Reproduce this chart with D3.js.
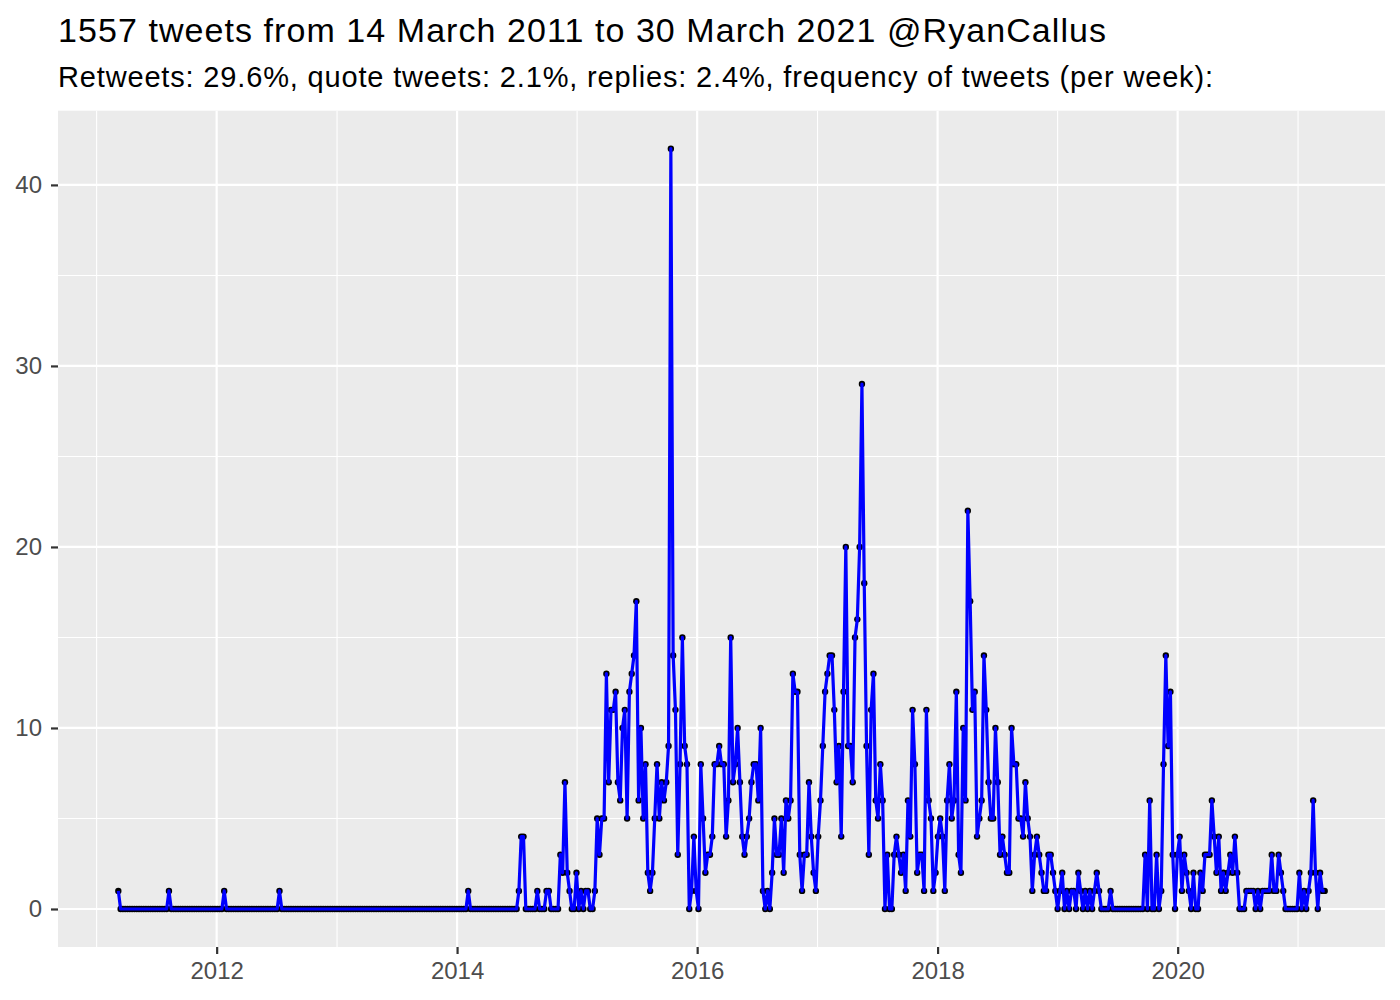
<!DOCTYPE html>
<html>
<head>
<meta charset="utf-8">
<script src="https://cdn.jsdelivr.net/npm/d3@7"></script>
<style>
  body { margin: 0; background: #ffffff; }
  svg { display: block; font-family: "Liberation Sans", Arial, sans-serif; }
</style>
</head>
<body>
<script>
"use strict";

/*
 * Weekly tweet frequency, ggplot-like look.
 */

const title = "1557 tweets from 14 March 2011 to 30 March 2021 @RyanCallus";
const subtitle = "Retweets: 29.6%, quote tweets: 2.1%, replies: 2.4%, frequency of tweets (per week):";

// first day of the first 7-day bin
const firstWeek = "2011-03-08";

// tweets per week, one value per bin
const weeklyTweets = [
  1, 0, 0, 0, 0, 0, 0, 0, 0, 0,
  0, 0, 0, 0, 0, 0, 0, 0, 0, 0,
  0, 0, 1, 0, 0, 0, 0, 0, 0, 0,
  0, 0, 0, 0, 0, 0, 0, 0, 0, 0,
  0, 0, 0, 0, 0, 0, 1, 0, 0, 0,
  0, 0, 0, 0, 0, 0, 0, 0, 0, 0,
  0, 0, 0, 0, 0, 0, 0, 0, 0, 0,
  1, 0, 0, 0, 0, 0, 0, 0, 0, 0,
  0, 0, 0, 0, 0, 0, 0, 0, 0, 0,
  0, 0, 0, 0, 0, 0, 0, 0, 0, 0,
  0, 0, 0, 0, 0, 0, 0, 0, 0, 0,
  0, 0, 0, 0, 0, 0, 0, 0, 0, 0,
  0, 0, 0, 0, 0, 0, 0, 0, 0, 0,
  0, 0, 0, 0, 0, 0, 0, 0, 0, 0,
  0, 0, 0, 0, 0, 0, 0, 0, 0, 0,
  0, 0, 1, 0, 0, 0, 0, 0, 0, 0,
  0, 0, 0, 0, 0, 0, 0, 0, 0, 0,
  0, 0, 0, 0, 1, 4, 4, 0, 0, 0,
  0, 0, 1, 0, 0, 0, 1, 1, 0, 0,
  0, 0, 3, 2, 7, 2, 1, 0, 0, 2,
  0, 1, 0, 1, 1, 0, 0, 1, 5, 3,
  5, 5, 13, 7, 11, 11, 12, 7, 6, 10,
  11, 5, 12, 13, 14, 17, 6, 10, 5, 8,
  2, 1, 2, 5, 8, 5, 7, 6, 7, 9,
  42, 14, 11, 3, 8, 15, 9, 8, 0, 1,
  4, 1, 0, 8, 5, 2, 3, 3, 4, 8,
  8, 9, 8, 8, 4, 6, 15, 7, 8, 10,
  7, 4, 3, 4, 5, 7, 8, 8, 6, 10,
  1, 0, 1, 0, 2, 5, 3, 3, 5, 2,
  6, 5, 6, 13, 12, 12, 3, 1, 3, 3,
  7, 4, 2, 1, 4, 6, 9, 12, 13, 14,
  14, 11, 7, 9, 4, 12, 20, 9, 9, 7,
  15, 16, 20, 29, 18, 9, 3, 11, 13, 6,
  5, 8, 6, 0, 3, 0, 0, 3, 4, 3,
  2, 3, 1, 6, 4, 11, 8, 2, 3, 3,
  1, 11, 6, 5, 1, 2, 4, 5, 4, 1,
  6, 8, 5, 6, 12, 3, 2, 10, 6, 22,
  17, 11, 12, 4, 5, 6, 14, 11, 7, 5,
  5, 10, 7, 3, 4, 3, 2, 2, 10, 8,
  8, 5, 5, 4, 7, 5, 4, 1, 3, 4,
  3, 2, 1, 1, 3, 3, 2, 1, 0, 1,
  2, 0, 1, 0, 1, 1, 0, 2, 1, 0,
  1, 0, 1, 0, 1, 2, 1, 0, 0, 0,
  0, 1, 0, 0, 0, 0, 0, 0, 0, 0,
  0, 0, 0, 0, 0, 0, 3, 0, 6, 0,
  0, 3, 0, 1, 8, 14, 9, 12, 3, 0,
  3, 4, 1, 3, 2, 1, 0, 2, 0, 0,
  2, 1, 3, 3, 3, 6, 4, 2, 4, 1,
  2, 1, 2, 3, 2, 4, 2, 0, 0, 0,
  1, 1, 1, 1, 0, 1, 0, 1, 1, 1,
  1, 3, 1, 1, 3, 2, 1, 0, 0, 0,
  0, 0, 0, 2, 0, 1, 0, 1, 2, 6,
  2, 0, 2, 1, 1
];

const yTicks = [0, 10, 20, 30, 40];
const yMinorTicks = [5, 15, 25, 35];
const xTickYears = [2012, 2014, 2016, 2018, 2020];
const xMinorYears = [2011, 2013, 2015, 2017, 2019, 2021];

const width = 1400;
const height = 1000;
const panel = {left: 58, right: 1385, top: 110.7, bottom: 947};

function init() {
  let start = d3.utcParse("%Y-%m-%d")(firstWeek);
  let points = weeklyTweets.map((count, i) => ({
    date: d3.utcDay.offset(start, 7 * i),
    count: count
  }));

  // ggplot style 5% expansion on both scales
  let first = points[0].date;
  let last = points[points.length - 1].date;
  let span = last - first;
  let x = d3.scaleUtc()
      .domain([new Date(+first - span * 0.05), new Date(+last + span * 0.05)])
      .range([panel.left, panel.right]);

  let maxCount = d3.max(points, d => d.count);
  let y = d3.scaleLinear()
      .domain([-maxCount * 0.05, maxCount * 1.05])
      .range([panel.bottom, panel.top]);

  let yearDate = year => new Date(Date.UTC(year, 0, 1));

  let svg = d3.select("body").append("svg")
      .attr("width", width)
      .attr("height", height);

  svg.append("rect")
      .attr("x", panel.left)
      .attr("y", panel.top)
      .attr("width", panel.right - panel.left)
      .attr("height", panel.bottom - panel.top)
      .attr("fill", "#ebebeb");

  let grid = svg.append("g").attr("class", "grid");

  grid.selectAll("line.yminor")
    .data(yMinorTicks)
    .enter().append("line")
      .attr("class", "yminor")
      .attr("x1", panel.left).attr("x2", panel.right)
      .attr("y1", d => y(d)).attr("y2", d => y(d))
      .attr("stroke", "#ffffff")
      .attr("stroke-width", 1.1);

  grid.selectAll("line.xminor")
    .data(xMinorYears)
    .enter().append("line")
      .attr("class", "xminor")
      .attr("x1", d => x(yearDate(d))).attr("x2", d => x(yearDate(d)))
      .attr("y1", panel.top).attr("y2", panel.bottom)
      .attr("stroke", "#ffffff")
      .attr("stroke-width", 1.1);

  grid.selectAll("line.ymajor")
    .data(yTicks)
    .enter().append("line")
      .attr("class", "ymajor")
      .attr("x1", panel.left).attr("x2", panel.right)
      .attr("y1", d => y(d)).attr("y2", d => y(d))
      .attr("stroke", "#ffffff")
      .attr("stroke-width", 2.2);

  grid.selectAll("line.xmajor")
    .data(xTickYears)
    .enter().append("line")
      .attr("class", "xmajor")
      .attr("x1", d => x(yearDate(d))).attr("x2", d => x(yearDate(d)))
      .attr("y1", panel.top).attr("y2", panel.bottom)
      .attr("stroke", "#ffffff")
      .attr("stroke-width", 2.2);

  // points first, the line goes over them
  svg.append("g")
      .attr("class", "points")
    .selectAll("circle")
    .data(points)
    .enter().append("circle")
      .attr("cx", d => x(d.date))
      .attr("cy", d => y(d.count))
      .attr("r", 3.2)
      .attr("fill", "#000000");

  let line = d3.line()
      .x(d => x(d.date))
      .y(d => y(d.count));

  svg.append("path")
      .datum(points)
      .attr("d", line)
      .attr("fill", "none")
      .attr("stroke", "#0000ff")
      .attr("stroke-width", 3.2)
      .attr("stroke-linejoin", "round");

  let yAxis = svg.append("g")
      .attr("transform", `translate(${panel.left},0)`)
      .call(d3.axisLeft(y).tickValues(yTicks).tickSize(7).tickPadding(9).tickFormat(d3.format("d")));

  let xAxis = svg.append("g")
      .attr("transform", `translate(0,${panel.bottom})`)
      .call(d3.axisBottom(x).tickValues(xTickYears.map(yearDate)).tickSize(7).tickPadding(8)
            .tickFormat(d3.utcFormat("%Y")));

  for (let axis of [xAxis, yAxis]) {
    axis.select(".domain").remove();
    axis.selectAll(".tick line")
      .attr("stroke", "#333333")
      .attr("stroke-width", 2.2);
    axis.selectAll(".tick text")
      .attr("fill", "#4d4d4d")
      .attr("font-size", 24)
      .attr("font-family", "Liberation Sans, Arial, sans-serif");
  }

  // the reference font sets wider than Liberation Sans, so stretch to its extent
  svg.append("text")
      .attr("x", panel.left)
      .attr("y", 42)
      .attr("font-size", 34)
      .attr("fill", "#000000")
      .attr("textLength", 1048)
      .attr("lengthAdjust", "spacing")
      .text(title);

  svg.append("text")
      .attr("x", panel.left)
      .attr("y", 86.5)
      .attr("font-size", 29)
      .attr("fill", "#000000")
      .attr("textLength", 1155)
      .attr("lengthAdjust", "spacing")
      .text(subtitle);
}

init();
</script>
</body>
</html>
